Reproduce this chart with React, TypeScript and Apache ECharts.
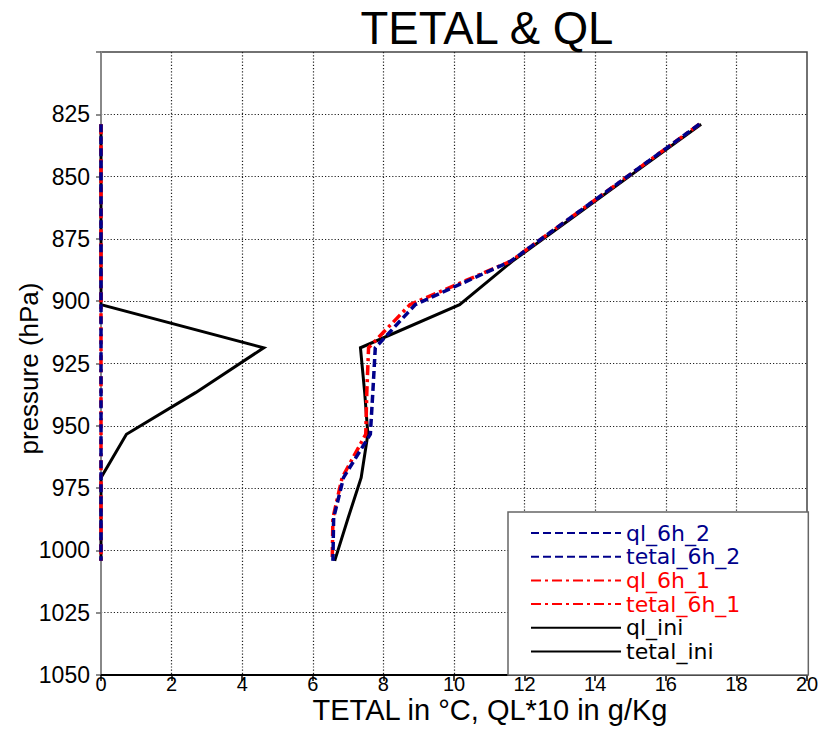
import React, { useEffect, useRef } from 'react';
import * as echarts from 'echarts';

// Pressure levels (hPa)
const pressure = [829, 848, 866, 884, 901.4, 918.7, 936.7, 953.4, 970.8, 987, 1004.2];

// Values along x (TETAL in °C, QL*10 in g/Kg)
const qlIni = [0, 0, 0, 0, 0, 4.61, 2.68, 0.72, 0, 0, 0];
const tetalIni = [17.0, 15.15, 13.4, 11.65, 10.16, 7.35, 7.47, 7.56, 7.37, 7.0, 6.62];
const ql6h1 = [0, 0, 0, 0, 0, 0, 0, 0, 0, 0, 0];
const tetal6h1 = [16.95, 15.1, 13.35, 11.6, 8.75, 7.58, 7.53, 7.5, 6.83, 6.57, 6.55];
const ql6h2 = [0, 0, 0, 0, 0, 0, 0, 0, 0, 0, 0];
const tetal6h2 = [16.95, 15.1, 13.35, 11.6, 8.9, 7.77, 7.7, 7.63, 6.87, 6.59, 6.57];

const FONT = "'Liberation Sans', Arial, Helvetica, sans-serif";
const BLUE = '#00008b';
const RED = '#ff0000';
const BLACK = '#000000';

function pairs(vals: number[]) {
  return vals.map((v, i) => [v, pressure[i]]);
}

function lineSeries(name: string, vals: number[], color: string, width: number, type: any) {
  return {
    name,
    type: 'line',
    data: pairs(vals),
    symbol: 'none',
    showSymbol: false,
    clip: false,
    color,
    lineStyle: { color, width, type, cap: 'butt', join: 'miter' },
  };
}

export default function App() {
  const ref = useRef<HTMLDivElement>(null);
  useEffect(() => {
    const chart = echarts.init(ref.current!, null, { renderer: 'svg' });
    const dashBlue = [8, 4];
    const dashRed = [10, 4, 3, 4];
    chart.setOption({
      animation: false,
      backgroundColor: '#ffffff',
      textStyle: { fontFamily: FONT },
      title: {
        text: 'TETAL & QL',
        left: 482,
        top: 0,
        textAlign: 'center',
        textStyle: { fontFamily: FONT, fontSize: 45.5, fontWeight: 'normal', color: '#000' },
      },
      grid: {
        left: 101,
        top: 52,
        width: 706,
        height: 623,
        show: true,
        borderColor: '#444',
        borderWidth: 1.5,
        backgroundColor: 'transparent',
        outerBoundsMode: 'none',
      },
      legend: {
        orient: 'vertical',
        left: 508,
        top: 512,
        padding: [10, 68, 12.5, 22],
        itemWidth: 90,
        itemHeight: 20,
        itemGap: 1.7,
        backgroundColor: '#ffffff',
        borderColor: '#666',
        borderWidth: 1.5,
        selectedMode: false,
        itemStyle: { opacity: 0 },
        textStyle: { fontFamily: "'DejaVu Sans', sans-serif", fontSize: 22 },
        data: [
          { name: 'ql_6h_2', textStyle: { color: BLUE } },
          { name: 'tetal_6h_2', textStyle: { color: BLUE } },
          { name: 'ql_6h_1', textStyle: { color: RED } },
          { name: 'tetal_6h_1', textStyle: { color: RED } },
          { name: 'ql_ini', textStyle: { color: BLACK } },
          { name: 'tetal_ini', textStyle: { color: BLACK } },
        ],
      },
      xAxis: {
        type: 'value',
        min: 0,
        max: 20,
        interval: 2,
        name: 'TETAL in °C, QL*10 in g/Kg',
        nameLocation: 'middle',
        nameGap: 20,
        nameMoveOverlap: false,
        nameTextStyle: { fontFamily: FONT, fontSize: 29, color: '#000', padding: [0, 0, 0, 72] },
        axisLine: { show: true, onZero: false, lineStyle: { color: '#000', width: 2 } },
        axisTick: { show: true, length: 6, lineStyle: { color: '#000', width: 1.5 } },
        axisLabel: { fontFamily: FONT, fontSize: 20, color: '#000', margin: -1 },
        splitLine: {
          show: true,
          showMinLine: false,
          showMaxLine: false,
          lineStyle: { color: '#222', width: 1.2, type: [1.2, 2] },
        },
      },
      yAxis: {
        type: 'value',
        min: 800,
        max: 1050,
        interval: 25,
        inverse: true,
        name: 'pressure (hPa)',
        nameLocation: 'middle',
        nameGap: 59,
        nameMoveOverlap: false,
        nameRotate: 90,
        nameTextStyle: { fontFamily: FONT, fontSize: 26, color: '#000', padding: [0, 10, 0, 0] },
        axisLine: { show: true, onZero: false, lineStyle: { color: '#888', width: 2 } },
        axisTick: { show: true, length: 5, lineStyle: { color: '#666', width: 1.5 } },
        axisLabel: {
          fontFamily: FONT,
          fontSize: 23,
          color: '#000',
          margin: 11,
          formatter: (v: number) => (v === 800 ? '' : String(v)),
        },
        splitLine: {
          show: true,
          showMinLine: false,
          showMaxLine: false,
          lineStyle: { color: '#222', width: 1.2, type: [1.2, 2] },
        },
      },
      series: [
        lineSeries('ql_ini', qlIni, BLACK, 3, 'solid'),
        lineSeries('tetal_ini', tetalIni, BLACK, 3, 'solid'),
        lineSeries('ql_6h_1', ql6h1, RED, 3.5, dashRed),
        lineSeries('tetal_6h_1', tetal6h1, RED, 3.5, dashRed),
        lineSeries('ql_6h_2', ql6h2, BLUE, 3.5, dashBlue),
        lineSeries('tetal_6h_2', tetal6h2, BLUE, 3.5, dashBlue),
      ],
    });
    return () => chart.dispose();
  }, []);
  return (
    <div
      ref={ref}
      style={{ position: 'fixed', left: 0, top: 0, width: 825, height: 729, background: '#fff' }}
    />
  );
}
